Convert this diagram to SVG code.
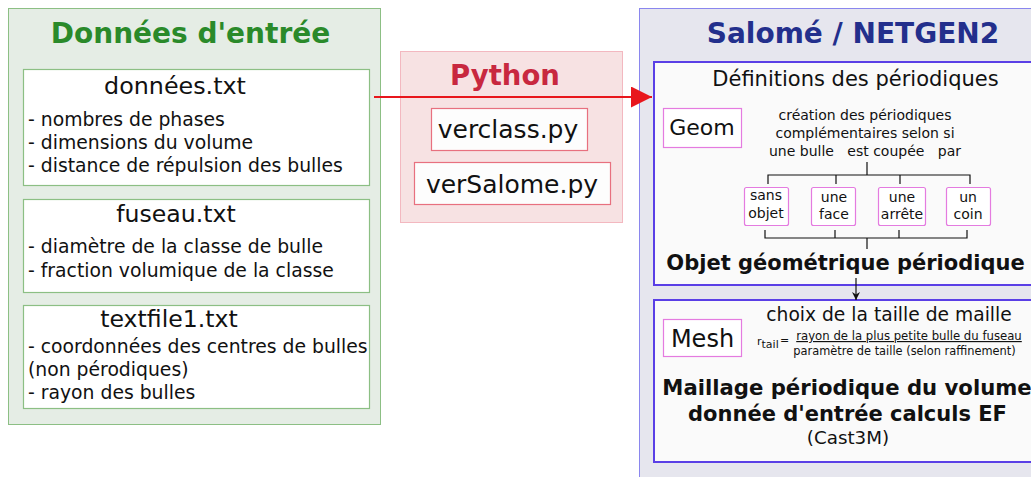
<svg xmlns="http://www.w3.org/2000/svg" width="1031" height="477" viewBox="0 0 1031 477">
<defs>
<style>
text{font-family:"DejaVu Sans","Liberation Sans",sans-serif;fill:#111}
.b{font-weight:bold}
.body{font-size:18.8px}
.file{fill:#fff;stroke:#8cbf84;stroke-width:1.2}
.py{fill:#fdfdfd;stroke:#e8707f;stroke-width:1.2}
.inner{fill:#fafafa;stroke:#5a3fe6;stroke-width:2}
.pk{fill:#fff;stroke:#e47be0;stroke-width:1.2}
.tr{fill:none;stroke:#111;stroke-width:1.2}
</style>
<marker id="ar" viewBox="0 0 10 10" refX="10" refY="5" markerWidth="27" markerHeight="21" markerUnits="userSpaceOnUse" orient="auto"><path d="M0,0L10,5L0,10z" fill="#e8161c"/></marker>
<marker id="ak" viewBox="0 0 10 10" refX="10" refY="5" markerWidth="9" markerHeight="8" markerUnits="userSpaceOnUse" orient="auto"><path d="M0,0L10,5L0,10L3,5z" fill="#111"/></marker>
</defs>
<rect width="1031" height="477" fill="#fff"/>
<g id="entree">
<rect x="8.5" y="8.5" width="372" height="416" fill="#e5ede5" stroke="#8cbf84"/>
<text class="b" x="190.5" y="43" font-size="28" text-anchor="middle" style="fill:#2a8a2a">Données d'entrée</text>
</g>
<g id="donnees">
<rect class="file" x="23.5" y="69.5" width="346" height="116"/>
<text x="175" y="94" font-size="23.8" text-anchor="middle">données.txt</text>
<text class="body" x="28" y="126">- nombres de phases</text>
<text class="body" x="28" y="149">- dimensions du volume</text>
<text class="body" x="28" y="172">- distance de répulsion des bulles</text>
</g>
<g id="fuseau">
<rect class="file" x="23.5" y="199.5" width="346" height="93"/>
<text x="176" y="222" font-size="23.6" text-anchor="middle">fuseau.txt</text>
<text class="body" x="28" y="253">- diamètre de la classe de bulle</text>
<text class="body" x="28" y="277">- fraction volumique de la classe</text>
</g>
<g id="textfile1">
<rect class="file" x="23.5" y="305.5" width="346" height="103"/>
<text x="169" y="327" font-size="23.6" text-anchor="middle">textfile1.txt</text>
<text class="body" x="28" y="353">- coordonnées des centres de bulles</text>
<text class="body" x="28" y="376">(non pérodiques)</text>
<text class="body" x="28" y="399">- rayon des bulles</text>
</g>
<g id="python">
<rect x="400.5" y="51.5" width="222" height="171" fill="#f7e2e3" stroke="#f3b8c0"/>
<text class="b" x="505" y="85" font-size="27.5" text-anchor="middle" style="fill:#c8283f">Python</text>
</g>
<g id="verclass">
<rect class="py" x="431.5" y="108.5" width="156" height="42"/>
<text x="508" y="138" font-size="25" text-anchor="middle">verclass.py</text>
</g>
<g id="verSalome">
<rect class="py" x="414.5" y="162.5" width="196" height="42"/>
<text x="512" y="193" font-size="25" text-anchor="middle">verSalome.py</text>
</g>
<g id="salome">
<rect x="639.5" y="8.5" width="400" height="480" fill="#e6e6ee" stroke="#8a86ee"/>
<text class="b" x="853" y="43" font-size="28" text-anchor="middle" style="fill:#232f8c">Salomé / NETGEN2</text>
</g>
<g id="definitions">
<rect class="inner" x="654" y="62" width="390" height="223"/>
<text x="855.5" y="86" font-size="21" text-anchor="middle">Définitions des périodiques</text>
<text x="865" y="120" font-size="14" text-anchor="middle">création des périodiques</text>
<text x="865" y="138" font-size="14" text-anchor="middle">complémentaires selon si</text>
<text x="865" y="156" font-size="14" text-anchor="middle" xml:space="preserve">une bulle   est coupée   par</text>
<text class="b" x="845.5" y="270" font-size="21" text-anchor="middle">Objet géométrique périodique</text>
</g>
<g id="geom">
<rect class="pk" x="663.5" y="108.5" width="78" height="39"/>
<text x="702" y="135" font-size="22" text-anchor="middle">Geom</text>
</g>
<g id="sansobjet">
<rect class="pk" x="744.5" y="187.5" width="44" height="38" rx="2"/>
<text x="766" y="200" font-size="14" text-anchor="middle">sans</text>
<text x="766" y="218" font-size="14" text-anchor="middle">objet</text>
</g>
<g id="uneface">
<rect class="pk" x="811.5" y="187.5" width="44" height="38" rx="2"/>
<text x="834" y="202" font-size="14" text-anchor="middle">une</text>
<text x="834" y="219" font-size="14" text-anchor="middle">face</text>
</g>
<g id="unearrete">
<rect class="pk" x="878.5" y="187.5" width="47" height="38" rx="2"/>
<text x="902" y="202" font-size="14" text-anchor="middle">une</text>
<text x="902" y="219" font-size="14" text-anchor="middle">arrête</text>
</g>
<g id="uncoin">
<rect class="pk" x="946.5" y="187.5" width="44" height="38" rx="2"/>
<text x="968" y="202" font-size="14" text-anchor="middle">un</text>
<text x="968" y="219" font-size="14" text-anchor="middle">coin</text>
</g>
<g id="mesh-box">
<rect class="inner" x="654" y="300" width="390" height="162"/>
<text x="889" y="321" font-size="18.7" text-anchor="middle">choix de la taille de maille</text>
<text x="757" y="345" font-size="11">r<tspan dy="3">tail</tspan><tspan x="780" y="344">=</tspan></text>
<text x="909" y="340" font-size="11.7" text-anchor="middle" text-decoration="underline">rayon de la plus petite bulle du fuseau</text>
<text x="904.5" y="355" font-size="11.4" text-anchor="middle">paramètre de taille (selon raffinement)</text>
<text class="b" x="847" y="395" font-size="21.2" text-anchor="middle">Maillage périodique du volume</text>
<text class="b" x="847.5" y="421" font-size="21" text-anchor="middle">donnée d'entrée calculs EF</text>
<text x="848" y="444" font-size="18.3" text-anchor="middle">(Cast3M)</text>
</g>
<g id="mesh">
<rect class="pk" x="663.5" y="319.5" width="78" height="37"/>
<text x="702.5" y="347" font-size="24" text-anchor="middle">Mesh</text>
</g>
<g id="connectors">
<line x1="374" y1="97" x2="652" y2="97" stroke="#e8161c" stroke-width="2" marker-end="url(#ar)"/>
<path class="tr" d="M867,162V175M768,184V175H970V184M836,175V184M900,175V184"/>
<path class="tr" d="M765,230V238H967V230M835,238V230M899,238V230M867,238V249"/>
<line x1="856" y1="278" x2="856" y2="300" stroke="#111" stroke-width="1.2" marker-end="url(#ak)"/>
</g>
</svg>
